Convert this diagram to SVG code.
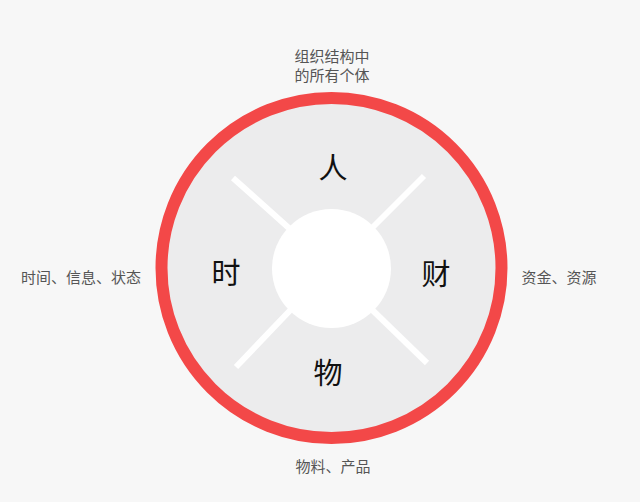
<svg xmlns="http://www.w3.org/2000/svg" width="640" height="502" viewBox="0 0 640 502">
<style>
.lbl{font-family:"Noto Sans CJK SC","Noto Sans CJK JP",sans-serif;font-size:15px;fill:#555;text-anchor:middle;dominant-baseline:central}
.big{font-family:"Noto Sans CJK SC","Noto Sans CJK JP",sans-serif;font-size:29px;fill:#111;text-anchor:middle;dominant-baseline:central}
.spoke{stroke:#ffffff;stroke-width:6;stroke-linecap:butt}
</style>
<rect width="640" height="502" fill="#f7f7f7"/>
<g id="ring">
<circle cx="331.5" cy="268" r="170" fill="#ececed" stroke="#f34848" stroke-width="12"/>
</g>
<g id="connectors">
<line class="spoke" x1="233" y1="178" x2="300" y2="238"/>
<line class="spoke" x1="424" y1="176" x2="362" y2="238"/>
<line class="spoke" x1="236" y1="367" x2="300" y2="300"/>
<line class="spoke" x1="427" y1="363" x2="362" y2="300"/>
</g>
<g id="center">
<circle cx="331.5" cy="268.5" r="59.5" fill="#ffffff"/>
</g>
<g id="node-ren"><text class="big" x="333" y="166">人</text></g>
<g id="node-shi"><text class="big" x="226" y="271">时</text></g>
<g id="node-cai"><text class="big" x="436" y="272">财</text></g>
<g id="node-wu"><text class="big" x="328" y="371">物</text></g>
<g id="label-top"><text class="lbl" x="332" y="55">组织结构中</text><text class="lbl" x="332" y="74">的所有个体</text></g>
<g id="label-left"><text class="lbl" x="81" y="276">时间、信息、状态</text></g>
<g id="label-right"><text class="lbl" x="559" y="276">资金、资源</text></g>
<g id="label-bottom"><text class="lbl" x="333" y="465">物料、产品</text></g>
</svg>
